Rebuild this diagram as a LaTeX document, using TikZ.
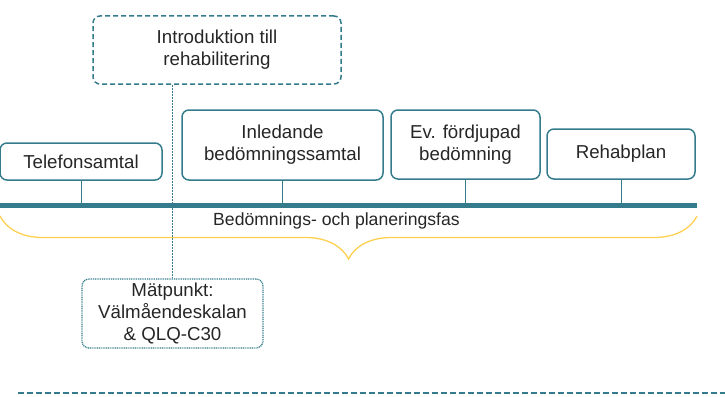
\documentclass[tikz,border=0pt]{standalone}
\usepackage{fontspec}
\setmainfont{Liberation Sans}
\usetikzlibrary{positioning, decorations.pathreplacing}
\definecolor{tealline}{RGB}{52,124,140}
\definecolor{bracey}{RGB}{255,208,80}
\definecolor{txt}{RGB}{38,38,38}
\tikzset{
    x=1pt, y=-1pt,
    every node/.style={font=\fontsize{18.7}{22}\selectfont, text=txt, align=center, inner sep=0pt},
    phase/.style={draw=tealline, line width=1.5pt, rounded corners=7pt},
    introbox/.style={phase, dash pattern=on 5pt off 3pt},
    measure/.style={phase, line width=1.3pt, dash pattern=on 1pt off 0.8pt},
    tick/.style={draw=tealline, line width=1pt},
}

\begin{document}
\begin{tikzpicture}

\useasboundingbox (0,0) rectangle (725,396);

% timeline
\coordinate (tl0) at (0,205.5);
\coordinate (tl1) at (697,205.5);
\draw[tealline, line width=4.5pt] (tl0) -- (tl1);

\node[phase, minimum width=162, minimum height=37] (tel) at (81,161.5) {Telefonsamtal};
\node[phase, minimum width=201, minimum height=70] (inl) at (282.5,145) {Inledande\\bedömningssamtal};
\node[phase, minimum width=149, minimum height=69] (fdj) at (465.5,144.5) {Ev. fördjupad\\bedömning};
\node[phase, minimum width=148, minimum height=50] (rhp) at (621,154) {Rehabplan};

\draw[tick] (tel.south) -- (tel.south |- tl0);
\draw[tick] (inl.south) -- (inl.south |- tl0);
\draw[tick] (fdj.south) -- (fdj.south |- tl0);
\draw[tick] (rhp.south) -- (rhp.south |- tl0);

\node[introbox, minimum width=248, minimum height=68] (intro) at (217,50) {Introduktion till\\rehabilitering};
\node[measure, minimum width=181, minimum height=69] (matp) at (172.5,313.5) {Mätpunkt:\\Välmåendeskalan\\\& QLQ-C30};
\draw[tealline, line width=0.8pt, dash pattern=on 2pt off 1pt] (intro.south -| matp.north) -- (matp.north);

% phase brace
\coordinate (br0) at (0,216);
\coordinate (br1) at (697,216);
\draw[bracey, line width=1.3pt, decorate, decoration={brace, mirror, amplitude=43pt, aspect=0.5}] (br0) -- (br1);
\node[font=\fontsize{17.6}{21}\selectfont] (fas) at (336.5,220.5) {Bedömnings- och planeringsfas};

% bottom separator
\coordinate (sep0) at (18,393);
\coordinate (sep1) at (725,393);
\draw[tealline, line width=1.2pt, dash pattern=on 6pt off 3pt] (sep0) -- (sep1);

\end{tikzpicture}
\end{document}
